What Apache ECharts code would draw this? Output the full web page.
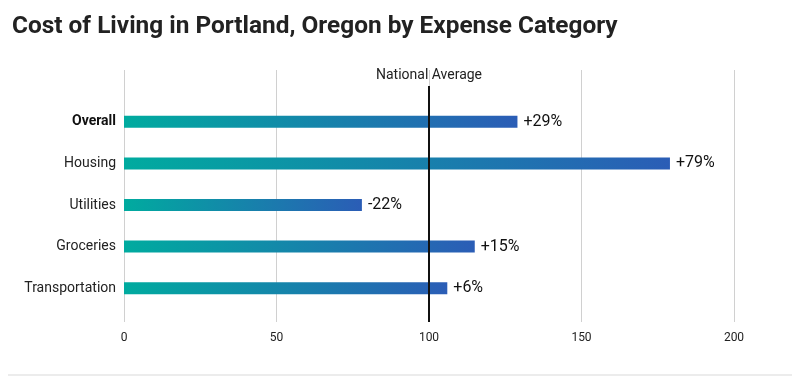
<!DOCTYPE html>
<html><head><meta charset="utf-8">
<script src="https://cdn.jsdelivr.net/npm/echarts@6/dist/echarts.min.js"></script>
<style>html,body{margin:0;padding:0;background:#fff}#c{width:800px;height:380px}</style>
</head><body><div id="c"></div>
<script>
const categories = ['Overall', 'Housing', 'Utilities', 'Groceries', 'Transportation'];
const values = [129, 179, 78, 115, 106];
const deltaLabels = ['+29%', '+79%', '-22%', '+15%', '+6%'];
const xTicks = [0, 50, 100, 150, 200];
const nationalAverage = 100;

const chart = echarts.init(document.getElementById('c'), null, {renderer: 'canvas'});
const font = 'Roboto, "Noto Sans", sans-serif';
chart.setOption({
  animation: false,
  textStyle: {fontFamily: font},
  title: {
    text: 'Cost of Living in Portland, Oregon by Expense Category',
    left: 7, top: 10,
    textStyle: {fontFamily: font, fontSize: 24.4, fontWeight: 'bold', color: '#222'}
  },
  grid: [
    {left: 124, right: 66, top: 70, bottom: 58},
    {left: 124, right: 66, top: 101, bottom: 71}
  ],
  xAxis: [
    {gridIndex: 0, type: 'value', min: xTicks[0], max: xTicks[xTicks.length - 1], interval: 50,
     axisLine: {show: false}, axisTick: {show: false},
     splitLine: {show: true, lineStyle: {color: '#d0d0d0', width: 1}},
     axisLabel: {fontSize: 12, color: '#222', margin: 10, fontFamily: font}},
    {gridIndex: 1, type: 'value', min: xTicks[0], max: xTicks[xTicks.length - 1], show: false}
  ],
  yAxis: [
    {gridIndex: 0, type: 'value', min: 0, max: 1, show: false},
    {gridIndex: 1, type: 'category', data: categories, inverse: true,
     axisLine: {show: false}, axisTick: {show: false},
     axisLabel: {fontSize: 14, color: '#222', margin: 8, fontFamily: font,
       formatter: v => v === 'Overall' ? '{b|' + v + '}' : v,
       rich: {b: {fontWeight: 'bold', fontSize: 14, color: '#111', fontFamily: font}}}}
  ],
  series: [
    {
      type: 'scatter', xAxisIndex: 0, yAxisIndex: 0, data: [], silent: true,
      markLine: {
        symbol: 'none', silent: true,
        lineStyle: {color: '#111', width: 2, type: 'solid'},
        label: {show: true, position: 'end', distance: 3, formatter: 'National Average',
          fontSize: 14, color: '#222', fontFamily: font},
        data: [[{coord: [nationalAverage, 0]}, {coord: [nationalAverage, 0.937]}]]
      }
    },
    {
      type: 'bar', xAxisIndex: 1, yAxisIndex: 1, data: values, barWidth: 12, z: 1,
      itemStyle: {color: {type: 'linear', x: 0, y: 0, x2: 1, y2: 0,
        colorStops: [{offset: 0, color: '#00ab9f'}, {offset: 1, color: '#2b5db6'}]}},
      label: {show: true, position: 'right', distance: 6, fontSize: 16, color: '#111',
        fontFamily: font, formatter: p => deltaLabels[p.dataIndex]}
    }
  ],
  graphic: [{type: 'rect', shape: {x: 8, y: 374, width: 784, height: 2}, style: {fill: '#ececec'}}]
});
</script></body></html>
